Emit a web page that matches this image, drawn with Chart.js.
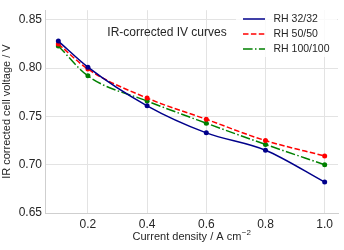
<!DOCTYPE html>
<html>
<head>
<meta charset="UTF-8">
<script src="https://cdn.jsdelivr.net/npm/chart.js"></script>
<style>
  *{margin:0;padding:0;box-sizing:border-box;}
  body{background:#fff;width:344px;height:250px;overflow:hidden;}
  #wrap{width:344px;height:250px;position:relative;}
</style>
</head>
<body>
<div id="wrap"><canvas id="c"></canvas></div>
<script>
// data
const current = [0.1, 0.2, 0.4, 0.6, 0.8, 1.0];
const rh32 = [0.828, 0.801, 0.761, 0.733, 0.715, 0.682];
const rh50 = [0.825, 0.799, 0.769, 0.747, 0.725, 0.709];
const rh100 = [0.823, 0.792, 0.766, 0.743, 0.721, 0.700];
const seriesNames = ['RH 32/32', 'RH 50/50', 'RH 100/100'];
const xTicks = [0.2, 0.4, 0.6, 0.8, 1.0];
const yTicks = [0.65, 0.70, 0.75, 0.80, 0.85];
const plotTitle = 'IR-corrected IV curves';
const xTitle = 'Current density / A cm';
const xTitleSup = '\u22122';

const FONT = "'Liberation Sans', Arial, sans-serif";
const TXT = '#262626';

function pts(ys){ return current.map((x,i)=>({x:x, y:ys[i]})); }

function ds(label, ys, color, dash){
  return {label, data:pts(ys), borderColor:color, backgroundColor:color,
    borderWidth:1.5, borderDash:dash, pointRadius:2.5, pointHoverRadius:2.5,
    pointBorderWidth:0, cubicInterpolationMode:'monotone', fill:false};
}

// text label, legend and x title with superscript
const insideText = {
  id:'insideText',
  afterDraw(chart){
    const ctx = chart.ctx, a = chart.chartArea;
    ctx.save();
    ctx.textBaseline = 'middle';

    ctx.font = '12px ' + FONT;
    ctx.fillStyle = TXT;
    ctx.textAlign = 'center';
    ctx.fillText(plotTitle, 167, 33);

    // legend box
    ctx.fillStyle = 'rgba(255,255,255,0.8)';
    ctx.fillRect(236, 8, 101, 49);

    ctx.font = '10.5px ' + FONT;
    ctx.fillStyle = TXT;
    ctx.textAlign = 'left';
    const rows = [19, 34, 49];
    chart.data.datasets.forEach((d,i)=>{
      const y = rows[i];
      ctx.beginPath();
      ctx.strokeStyle = d.borderColor;
      ctx.lineWidth = 1.5;
      ctx.setLineDash(d.borderDash || []);
      ctx.moveTo(243, y); ctx.lineTo(265, y);
      ctx.stroke();
      ctx.setLineDash([]);
      ctx.fillText(d.label, 273.5, y);
    });

    // x axis title
    ctx.font = '11px ' + FONT;
    const w1 = ctx.measureText(xTitle).width;
    ctx.font = '8px ' + FONT;
    const w2 = ctx.measureText(xTitleSup).width;
    const cx = (a.left + a.right) / 2;
    const x0 = cx - (w1 + w2) / 2;
    ctx.font = '11px ' + FONT;
    ctx.fillText(xTitle, x0, 237);
    ctx.font = '8px ' + FONT;
    ctx.fillText(xTitleSup, x0 + w1 + 0.5, 232.5);
    ctx.restore();
  }
};

new Chart(document.getElementById('c'), {
  type:'line',
  data:{datasets:[
    ds(seriesNames[0], rh32, '#00008b', []),
    ds(seriesNames[1], rh50, '#ff0000', [5.5, 2.4]),
    ds(seriesNames[2], rh100, '#008000', [9.6, 2.4, 1.5, 2.4])
  ]},
  options:{
    responsive:true, maintainAspectRatio:false, animation:false,
    layout:{padding:{top:5, right:6, left:0, bottom:0}},
    plugins:{legend:{display:false}, tooltip:{enabled:false}},
    scales:{
      x:{type:'linear', min:0.055, max:1.045,
        afterBuildTicks(s){ s.ticks = xTicks.map(v=>({value:v})); },
        afterFit(s){ s.height = 37; },
        grid:{color:'#e3e3e3', lineWidth:1, tickLength:0, drawTicks:false},
        border:{color:'#cfcfcf', width:1},
        ticks:{padding:4, color:TXT, font:{family:FONT, size:12}, callback:v=>v.toFixed(1)},
        title:{display:false}
      },
      y:{min:0.65, max:0.86,
        afterBuildTicks(s){ s.ticks = yTicks.map(v=>({value:v})); },
        afterFit(s){ s.width = 45; },
        grid:{color:'#e3e3e3', lineWidth:1, tickLength:0, drawTicks:false},
        border:{color:'#cfcfcf', width:1},
        ticks:{padding:3, color:TXT, font:{family:FONT, size:12}, callback:v=>v.toFixed(2)},
        title:{display:true, text:'IR corrected cell voltage / V', color:TXT,
          font:{family:FONT, size:11}, padding:{top:0, bottom:0}}
      }
    }
  },
  plugins:[insideText]
});
</script>
</body>
</html>
